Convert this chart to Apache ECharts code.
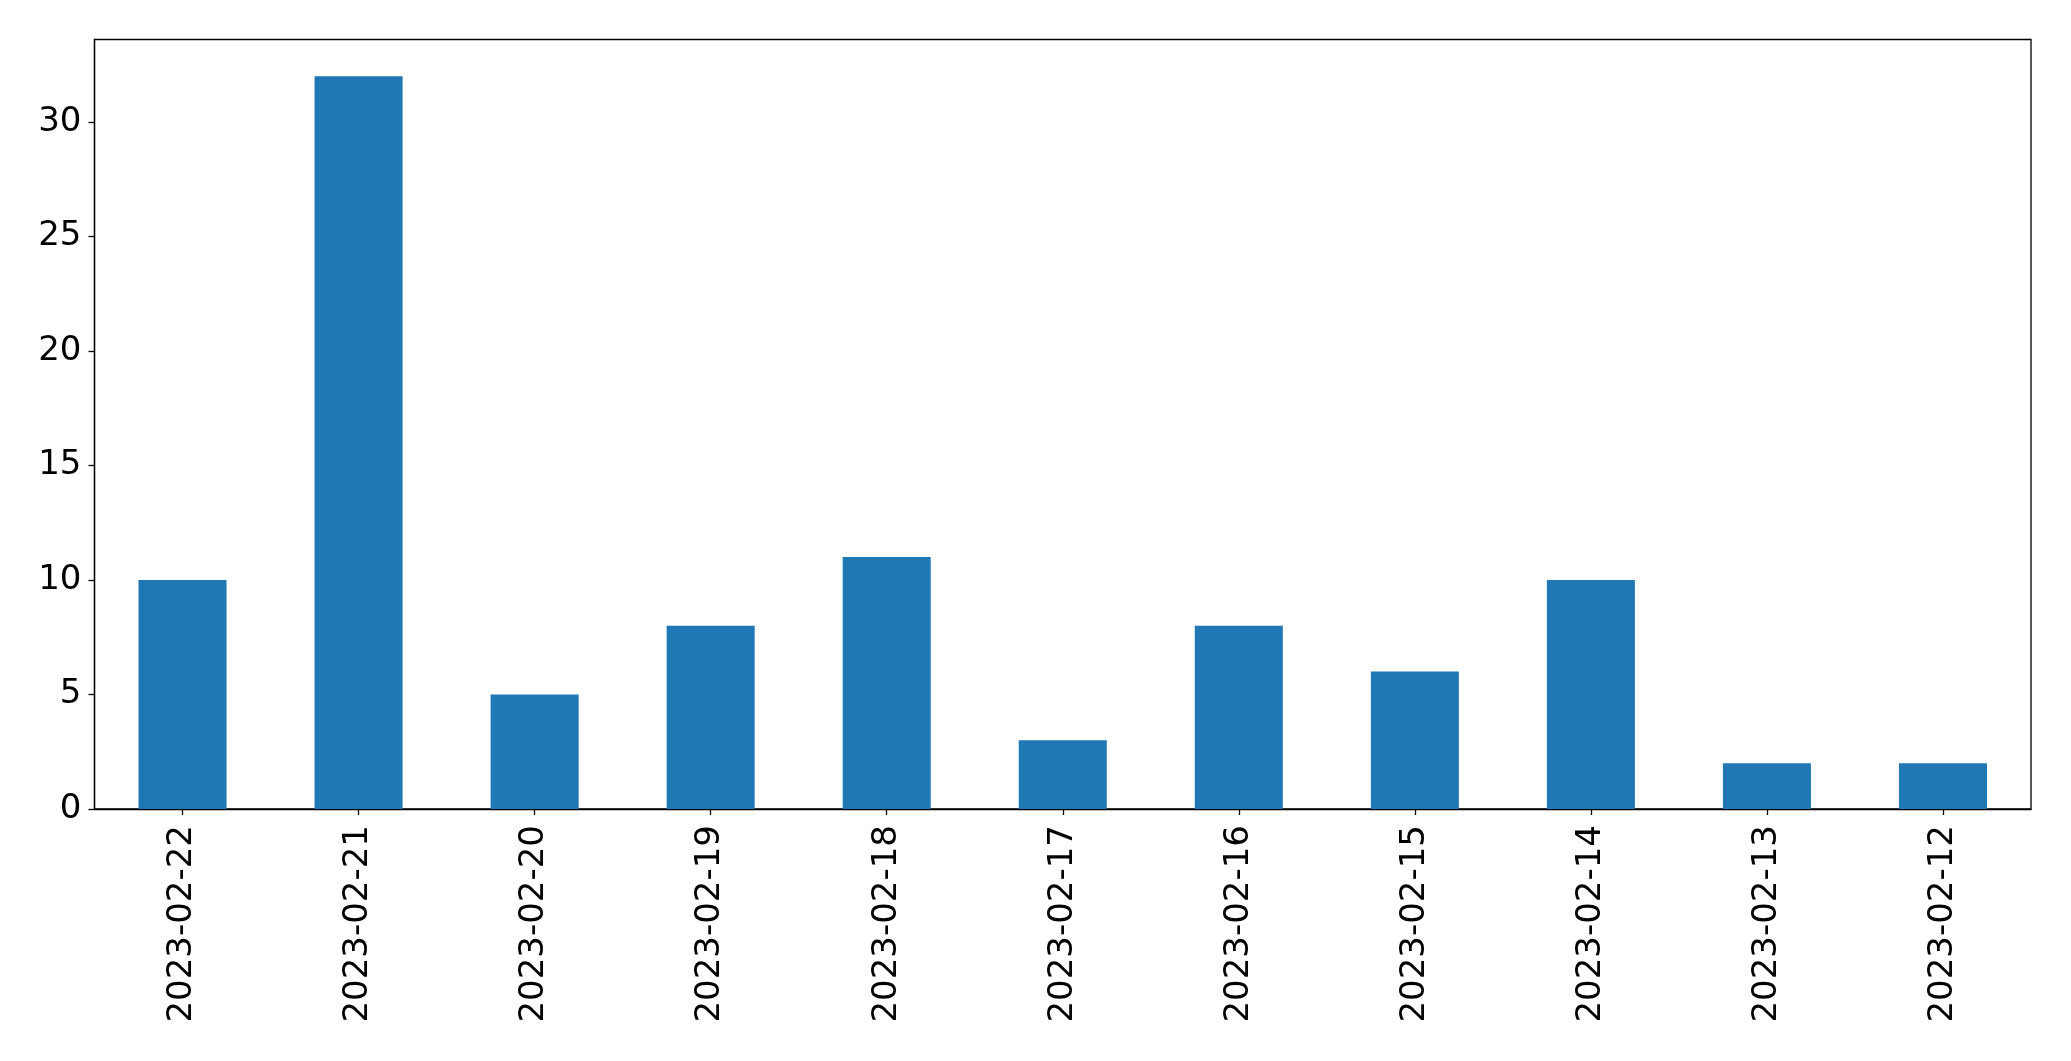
<!DOCTYPE html>
<html><head><meta charset="utf-8">
<script src="https://cdn.jsdelivr.net/npm/echarts@6/dist/echarts.min.js"></script>
<style>html,body{margin:0;padding:0;background:#fff}#c{width:2071px;height:1061px}</style>
</head><body><div id="c"></div>
<script>
const categories = ["2023-02-22","2023-02-21","2023-02-20","2023-02-19","2023-02-18","2023-02-17","2023-02-16","2023-02-15","2023-02-14","2023-02-13","2023-02-12"];
const values = [10, 32, 5, 8, 11, 3, 8, 6, 10, 2, 2];
const yTicks = [0, 5, 10, 15, 20, 25, 30];
const yMax = 33.6;

const chart = echarts.init(document.getElementById('c'), null, {renderer: 'canvas'});
const font = 'DejaVu Sans';
chart.setOption({
  animation: false,
  grid: {left: 94.5, right: 40, top: 39.5, bottom: 252, show: true, borderColor: '#000', borderWidth: 1.3, backgroundColor: 'transparent'},
  xAxis: {
    type: 'category', data: categories, boundaryGap: true,
    axisLine: {show: true, lineStyle: {color: '#000', width: 1.3}},
    axisTick: {show: true, alignWithLabel: true, length: 6, lineStyle: {color: '#000', width: 1.3}},
    axisLabel: {rotate: 90, fontFamily: font, fontSize: 34, color: '#000', margin: 16, interval: 0}
  },
  yAxis: {
    type: 'value', min: 0, max: yMax,
    splitLine: {show: false},
    axisLine: {show: true, lineStyle: {color: '#000', width: 1.3}},
    axisTick: {show: true, length: 6, customValues: yTicks, lineStyle: {color: '#000', width: 1.3}},
    axisLabel: {fontFamily: font, fontSize: 34, color: '#000', margin: 13, customValues: yTicks}
  },
  series: [{type: 'bar', data: values, barWidth: '50%', itemStyle: {color: '#1f77b4'}}]
});
</script></body></html>
